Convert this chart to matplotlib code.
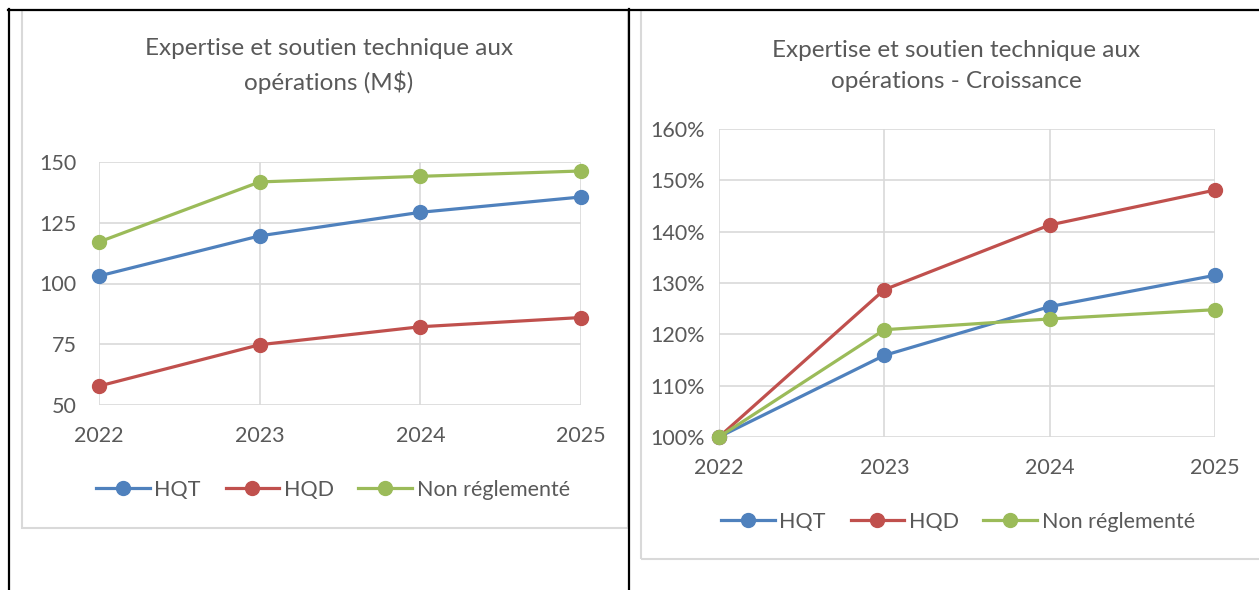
import matplotlib.pyplot as plt
from matplotlib.lines import Line2D
from matplotlib.patches import Rectangle
from matplotlib.ticker import FuncFormatter

plt.rcParams['font.family'] = ['Lato', 'DejaVu Sans']

years = [2022, 2023, 2024, 2025]
series = ['HQT', 'HQD', 'Non réglementé']
colors = ['#4F81BD', '#C0504D', '#9BBB59']

# M$
hqt = [103.1, 119.6, 129.3, 135.6]
hqd = [57.8, 74.8, 82.2, 86.0]
non_reg = [117.1, 141.8, 144.1, 146.3]

# croissance (%)
hqt_g = [100, 115.9, 125.4, 131.5]
hqd_g = [100, 128.7, 141.3, 148.1]
non_reg_g = [100, 120.9, 123.0, 124.8]

W, H = 1259, 590
fig = plt.figure(figsize=(W / 100, H / 100), dpi=100)
TXT = '#595959'
GRID = '#D9D9D9'


def px_ax(x0, y0, x1, y1):
    # pixel box (top-left origin) -> axes
    return fig.add_axes([x0 / W, 1 - y1 / H, (x1 - x0) / W, (y1 - y0) / H])


def hline(x0, x1, y, color, lw):
    fig.add_artist(Line2D([x0 / W, x1 / W], [1 - y / H, 1 - y / H], color=color, lw=lw))


def vline(x, y0, y1, color, lw):
    fig.add_artist(Line2D([x / W, x / W], [1 - y0 / H, 1 - y1 / H], color=color, lw=lw))


# chart frames (light gray)
fig.add_artist(Rectangle((22 / W, 1 - 528 / H), (628 - 22) / W, (528 - 10) / H,
                         fill=False, ec=GRID, lw=1.5, transform=fig.transFigure))
fig.add_artist(Rectangle((641 / W, 1 - 559 / H), (1262 - 641) / W, (559 - 10) / H,
                         fill=False, ec=GRID, lw=1.5, transform=fig.transFigure))

# table borders (black)
hline(8, W, 9.5, 'black', 1.6)
vline(9, 9, H, 'black', 1.6)
vline(629, 9, H, 'black', 1.6)


def style(ax, ylim, yticks, ypad):
    ax.set_xlim(years[0], years[-1])
    ax.set_ylim(*ylim)
    ax.set_xticks(years)
    ax.set_yticks(yticks)
    ax.grid(True, color=GRID, lw=1.2)
    ax.set_axisbelow(True)
    for s in ax.spines.values():
        s.set_visible(False)
    ax.tick_params(length=0, labelsize=15.5, colors=TXT)
    ax.tick_params(axis='x', pad=15)
    ax.tick_params(axis='y', pad=ypad)


def draw(ax, data):
    hs = []
    for vals, c, name in zip(data, colors, series):
        h, = ax.plot(years, vals, color=c, lw=2.3, marker='o', ms=10,
                     label=name, clip_on=False, zorder=3)
        hs.append(h)
    return hs


# left chart
ax1 = px_ax(99, 162, 581, 405)
style(ax1, (50, 150), [50, 75, 100, 125, 150], 16)
hs = draw(ax1, [hqt, hqd, non_reg])
fig.text(329 / W, 1 - 66 / H, 'Expertise et soutien technique aux\nopérations (M$)',
         ha='center', va='center', fontsize=17.5, color=TXT, linespacing=1.6)
fig.legend(handles=hs, loc='center', bbox_to_anchor=(333 / W, 1 - 490 / H), ncol=3,
           frameon=False, fontsize=15.5, labelcolor=TXT, handlelength=2.5,
           handletextpad=0.2, columnspacing=1.15)

# right chart
ax2 = px_ax(719, 129, 1215, 437)
style(ax2, (100, 160), [100, 110, 120, 130, 140, 150, 160], 10)
ax2.yaxis.set_major_formatter(FuncFormatter(lambda v, p: f'{v:.0f}%'))
hs2 = draw(ax2, [hqt_g, hqd_g, non_reg_g])
fig.text(956 / W, 1 - 66 / H, 'Expertise et soutien technique aux\nopérations - Croissance',
         ha='center', va='center', fontsize=17.5, color=TXT, linespacing=1.6)
fig.legend(handles=hs2, loc='center', bbox_to_anchor=(958 / W, 1 - 522 / H), ncol=3,
           frameon=False, fontsize=15.5, labelcolor=TXT, handlelength=2.5,
           handletextpad=0.2, columnspacing=1.15)

fig.savefig('out.png', dpi=100)
